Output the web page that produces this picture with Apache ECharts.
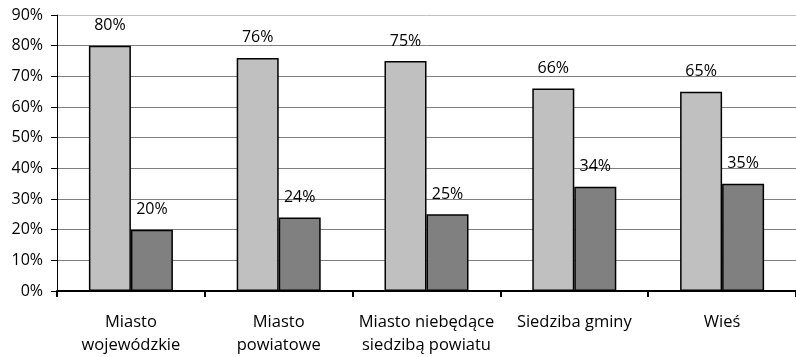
<!DOCTYPE html>
<html>
<head>
<meta charset="utf-8">
<script src="https://cdn.jsdelivr.net/npm/echarts@6/dist/echarts.min.js"></script>
<style>
  html, body { margin: 0; padding: 0; background: #fff; }
  #chart { width: 796px; height: 357px; }
</style>
</head>
<body>
<div id="chart"></div>
<script>
// Settlement types along the x axis
const categories = ['Miasto\nwojewódzkie', 'Miasto\npowiatowe', 'Miasto niebędące\nsiedzibą powiatu', 'Siedziba gminy', 'Wieś'];
// Two shares per settlement type (percent)
const seriesA = [80, 76, 75, 66, 65];
const seriesB = [20, 24, 25, 34, 35];
// Y axis range and step (percent)
const yMin = 0, yMax = 90, yStep = 10;

const font = '"Open Sans", "Noto Sans", sans-serif';
const fs = 16;
const chart = echarts.init(document.getElementById('chart'), null, { renderer: 'canvas' });

const labelCfg = {
  show: true, position: 'top', distance: 12,
  color: '#000', fontSize: fs, fontFamily: font,
  formatter: p => p.value + '%'
};

chart.setOption({
  animation: false,
  grid: { left: 57, top: 15, width: 746, height: 277, containLabel: false },
  xAxis: {
    type: 'category',
    data: categories,
    axisLine: { lineStyle: { color: '#000', width: 2 } },
    axisTick: { show: true, interval: 0, length: 6, lineStyle: { color: '#000', width: 2 } },
    axisLabel: { interval: 0, color: '#000', fontSize: 16.5, fontFamily: font, lineHeight: 23, margin: 20 }
  },
  yAxis: {
    type: 'value', min: yMin, max: yMax, interval: yStep,
    axisLine: { show: true, lineStyle: { color: '#000', width: 1 } },
    axisTick: { show: true, length: 6, lineStyle: { color: '#000' } },
    axisLabel: { color: '#000', fontSize: fs, fontFamily: font, margin: 14, formatter: v => v + '%' },
    splitLine: {
      lineStyle: {
        // the topmost line is lighter than the rest
        color: ['#7f7f7f', '#7f7f7f', '#7f7f7f', '#7f7f7f', '#7f7f7f', '#7f7f7f', '#7f7f7f', '#7f7f7f', '#7f7f7f', '#bfbfbf'],
        width: 1
      }
    }
  },
  series: [
    {
      type: 'bar', data: seriesA, barWidth: 42, barGap: '0%',
      itemStyle: { color: '#c0c0c0', borderColor: '#000', borderWidth: 1.5 },
      label: labelCfg
    },
    {
      type: 'bar', data: seriesB, barWidth: 42, barGap: '0%',
      itemStyle: { color: '#808080', borderColor: '#000', borderWidth: 1.5 },
      label: labelCfg
    }
  ]
});
</script>
</body>
</html>
